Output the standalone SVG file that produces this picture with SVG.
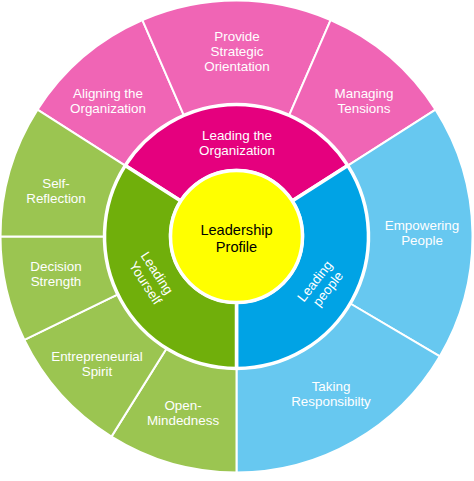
<svg xmlns="http://www.w3.org/2000/svg" width="474" height="481" viewBox="0 0 474 481">
<style>
  .outer { stroke: #fff; stroke-width: 2; stroke-linejoin: round; }
  .mid { stroke: #fff; stroke-width: 3.5; stroke-linejoin: round; }
  .pinkL { fill: #F065B5; }
  .pinkD { fill: #E5007E; }
  .greenL { fill: #9BC551; }
  .greenD { fill: #70AF0B; }
  .blueL { fill: #67C8F0; }
  .blueD { fill: #00A3E5; }
  text { font-family: "Liberation Sans", Arial, sans-serif; font-size: 13.4px; fill: #fff; text-anchor: middle; }
  .core { font-size: 14.6px; fill: #000; }
</style>
<rect width="474" height="481" fill="#fff"/>

<g id="aligning-the-organization">
  <path class="outer pinkL" d="M 37.46 109.70 A 236 236 0 0 1 142.41 20.06 L 183.87 115.44 A 132 132 0 0 0 125.17 165.58 Z"/>
  <text x="108" y="98">Aligning the<tspan x="108" dy="15">Organization</tspan></text>
</g>
<g id="provide-strategic-orientation">
  <path class="outer pinkL" d="M 142.41 20.06 A 236 236 0 0 1 330.59 20.06 L 289.13 115.44 A 132 132 0 0 0 183.87 115.44 Z"/>
  <text x="237" y="41">Provide<tspan x="237" dy="15">Strategic</tspan><tspan x="237" dy="15">Orientation</tspan></text>
</g>
<g id="managing-tensions">
  <path class="outer pinkL" d="M 330.59 20.06 A 236 236 0 0 1 435.54 109.70 L 347.83 165.58 A 132 132 0 0 0 289.13 115.44 Z"/>
  <text x="364" y="97.5">Managing<tspan x="364" dy="15">Tensions</tspan></text>
</g>
<g id="empowering-people">
  <path class="outer blueL" d="M 435.54 109.70 A 236 236 0 0 1 439.84 356.27 L 350.23 303.49 A 132 132 0 0 0 347.83 165.58 Z"/>
  <text x="422" y="229.5">Empowering<tspan x="422" dy="15">People</tspan></text>
</g>
<g id="taking-responsibility">
  <path class="outer blueL" d="M 439.84 356.27 A 236 236 0 0 1 236.5 472.5 L 236.5 368.5 A 132 132 0 0 0 350.23 303.49 Z"/>
  <text x="331" y="390.5">Taking<tspan x="331" dy="15">Responsibilty</tspan></text>
</g>
<g id="open-mindedness">
  <path class="outer greenL" d="M 236.5 472.5 A 236 236 0 0 1 111.44 436.63 L 166.55 348.44 A 132 132 0 0 0 236.5 368.5 Z"/>
  <text x="183" y="409.5">Open-<tspan x="183" dy="15">Mindedness</tspan></text>
</g>
<g id="entrepreneurial-spirit">
  <path class="outer greenL" d="M 111.44 436.63 A 236 236 0 0 1 24.38 339.96 L 117.86 294.37 A 132 132 0 0 0 166.55 348.44 Z"/>
  <text x="97" y="360.5">Entrepreneurial<tspan x="97" dy="15">Spirit</tspan></text>
</g>
<g id="decision-strength">
  <path class="outer greenL" d="M 24.38 339.96 A 236 236 0 0 1 0.5 236.5 L 104.5 236.5 A 132 132 0 0 0 117.86 294.37 Z"/>
  <text x="56" y="270.5">Decision<tspan x="56" dy="15">Strength</tspan></text>
</g>
<g id="self-reflection">
  <path class="outer greenL" d="M 0.5 236.5 A 236 236 0 0 1 37.46 109.70 L 125.17 165.58 A 132 132 0 0 0 104.5 236.5 Z"/>
  <text x="56" y="187.5">Self-<tspan x="56" dy="15">Reflection</tspan></text>
</g>

<g id="leading-the-organization">
  <path class="mid pinkD" d="M 125.17 165.58 A 132 132 0 0 1 347.83 165.58 L 292.16 201.04 A 66 66 0 0 0 180.84 201.04 Z"/>
  <text x="237" y="139.5">Leading the<tspan x="237" dy="15">Organization</tspan></text>
</g>
<g id="leading-people">
  <path class="mid blueD" d="M 347.83 165.58 A 132 132 0 0 1 236.5 368.5 L 236.5 302.5 A 66 66 0 0 0 292.16 201.04 Z"/>
  <text transform="translate(321.5 285) rotate(-52)" x="-1" y="-3">Leading<tspan x="1" dy="15">people</tspan></text>
</g>
<g id="leading-yourself">
  <path class="mid greenD" d="M 236.5 368.5 A 132 132 0 0 1 125.17 165.58 L 180.84 201.04 A 66 66 0 0 0 236.5 302.5 Z"/>
  <text transform="translate(152 277.5) rotate(57)" x="-1" y="-2">Leading<tspan x="1" dy="15">Yourself</tspan></text>
</g>

<g id="leadership-profile">
  <circle cx="236.5" cy="236.5" r="66" fill="#FFFF00" stroke="#fff" stroke-width="3.5"/>
  <text class="core" x="236.5" y="235">Leadership<tspan x="236.5" dy="16.5">Profile</tspan></text>
</g>
<g id="connectors"/>
</svg>
